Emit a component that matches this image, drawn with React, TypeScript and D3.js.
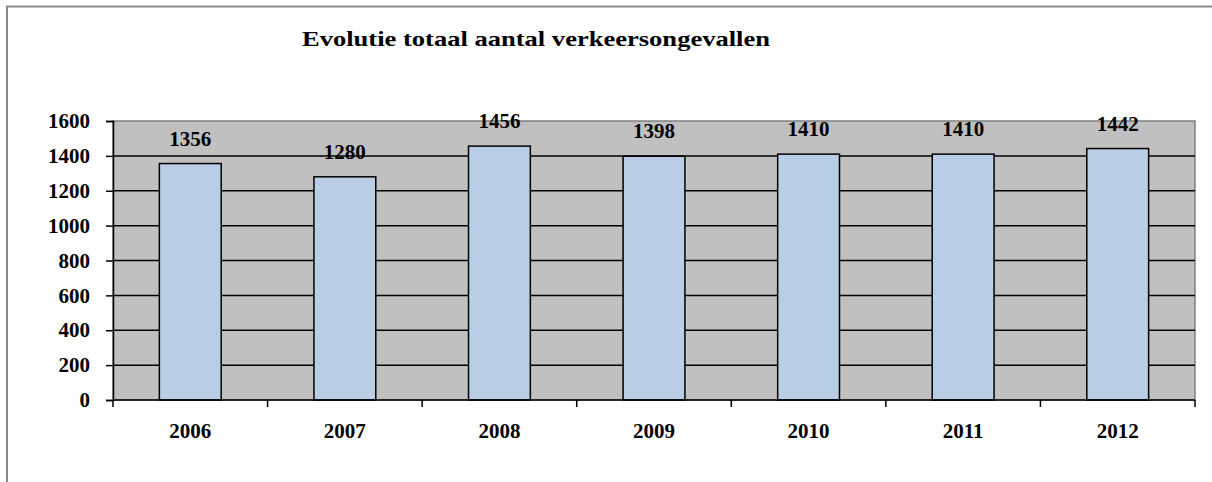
import React, { useEffect, useRef } from 'react';
import * as d3 from 'd3';

const years = ['2006', '2007', '2008', '2009', '2010', '2011', '2012'];
const accidents = [1356, 1280, 1456, 1398, 1410, 1410, 1442];
const yTicks = [0, 200, 400, 600, 800, 1000, 1200, 1400, 1600];
const title = 'Evolutie totaal aantal verkeersongevallen';

const App = () => {
  const ref = useRef<SVGSVGElement>(null);

  useEffect(() => {
    const svg = d3.select(ref.current);
    svg.selectAll('*').remove();

    const font = '"Liberation Serif", "Times New Roman", serif';
    const left = 113, right = 1195, top = 121, bottom = 400;

    // outer chart frame (right and bottom edges fall outside the window)
    svg.append('rect')
      .attr('x', 7).attr('y', 6.5)
      .attr('width', 1220).attr('height', 500)
      .attr('fill', '#fff')
      .attr('stroke', '#8a8a8a').attr('stroke-width', 2);

    svg.append('text')
      .attr('x', 302).attr('y', 46)
      .attr('textLength', 468)
      .attr('lengthAdjust', 'spacingAndGlyphs')
      .attr('font-family', font).attr('font-weight', 'bold')
      .attr('font-size', 22)
      .text(title);

    const x = d3.scaleBand().domain(years).range([left, right]).paddingInner(0).paddingOuter(0);
    const y = d3.scaleLinear().domain([0, 1600]).range([bottom, top]);
    const barW = x.bandwidth() * 0.4;

    svg.append('rect')
      .attr('x', left).attr('y', top)
      .attr('width', right - left).attr('height', bottom - top)
      .attr('fill', '#c0c0c0')
      .attr('stroke', '#808080').attr('stroke-width', 1.5);

    svg.append('g').selectAll('line')
      .data(yTicks.filter(t => t > 0 && t < 1600))
      .enter().append('line')
      .attr('x1', left).attr('x2', right)
      .attr('y1', d => y(d)).attr('y2', d => y(d))
      .attr('stroke', '#000').attr('stroke-width', 1.5);

    svg.append('g').selectAll('rect')
      .data(accidents)
      .enter().append('rect')
      .attr('x', (d, i) => x(years[i])! + (x.bandwidth() - barW) / 2)
      .attr('y', d => y(d))
      .attr('width', barW)
      .attr('height', d => bottom - y(d))
      .attr('fill', '#b9cde5')
      .attr('stroke', '#000').attr('stroke-width', 1.5);

    svg.append('g').selectAll('text')
      .data(accidents)
      .enter().append('text')
      .attr('x', (d, i) => x(years[i])! + x.bandwidth() / 2)
      .attr('y', d => y(d) - 18)
      .attr('text-anchor', 'middle')
      .attr('font-family', font).attr('font-weight', 'bold')
      .attr('font-size', 21)
      .text(d => d);

    const yAxis = svg.append('g')
      .attr('transform', `translate(${left},0)`)
      .call(d3.axisLeft(y).tickValues(yTicks).tickFormat(d3.format('d')).tickSize(7).tickPadding(16));
    yAxis.select('.domain').attr('stroke', '#000').attr('stroke-width', 1.5);
    yAxis.selectAll('.tick line').attr('stroke', '#000').attr('stroke-width', 1.5);
    yAxis.selectAll('.tick text')
      .attr('font-family', font).attr('font-weight', 'bold')
      .attr('font-size', 21).attr('fill', '#000');

    const xTickScale = d3.scaleLinear().domain([0, years.length]).range([left, right]);
    const xAxis = svg.append('g').attr('transform', `translate(0,${bottom})`);
    xAxis.append('line')
      .attr('x1', left).attr('x2', right)
      .attr('stroke', '#000').attr('stroke-width', 1.5);
    xAxis.selectAll('line.tick')
      .data(d3.range(years.length + 1))
      .enter().append('line')
      .attr('class', 'tick')
      .attr('x1', d => xTickScale(d)).attr('x2', d => xTickScale(d))
      .attr('y1', 0).attr('y2', 7)
      .attr('stroke', '#000').attr('stroke-width', 1.5);
    xAxis.selectAll('text')
      .data(years)
      .enter().append('text')
      .attr('x', d => x(d)! + x.bandwidth() / 2)
      .attr('y', 38)
      .attr('text-anchor', 'middle')
      .attr('font-family', font).attr('font-weight', 'bold')
      .attr('font-size', 21)
      .text(d => d);
  }, []);

  return (
    <svg ref={ref} width={1212} height={482}
      style={{ position: 'absolute', left: 0, top: 0, display: 'block' }} />
  );
};

export default App;
